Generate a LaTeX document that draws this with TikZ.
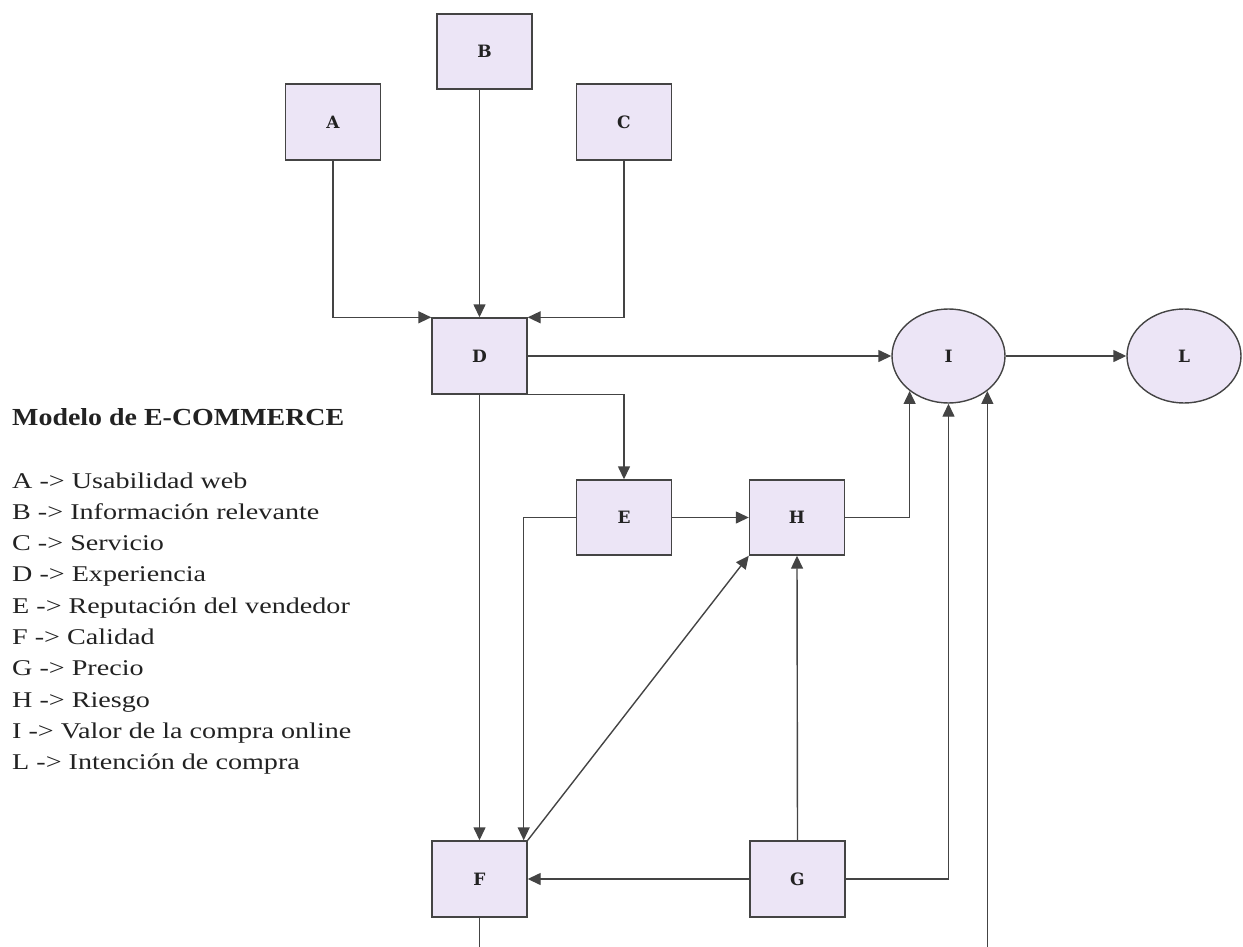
\documentclass[tikz,border=0pt]{standalone}
\usepackage{fontspec}
\usetikzlibrary{shapes.geometric,arrows.meta,calc}
\newfontfamily\lblfam{DejaVu Serif}
\newfontfamily\legfam[FakeStretch=1.25]{Liberation Serif}
\newfontfamily\legtitlefam[FakeStretch=1.14]{Liberation Serif}
\definecolor{boxfill}{HTML}{ECE5F6}
\definecolor{boxline}{HTML}{444444}
\definecolor{lineclr}{HTML}{444444}
\definecolor{txt}{HTML}{222222}
\tikzset{
  box/.style={draw=boxline, fill=boxfill, line width=1.4pt, rectangle,
    minimum width=95pt, minimum height=76pt, inner sep=0pt,
    font=\lblfam\bfseries\fontsize{17}{19}\selectfont, text=txt},
  ell/.style={box, ellipse, minimum width=113pt, minimum height=94pt},
  conn/.style={draw=lineclr, line width=1.4pt, -{Triangle[length=13pt,width=12pt]}},
  plain/.style={draw=lineclr, line width=1.4pt},
  legtitle/.style={anchor=base west, inner sep=0pt, text=txt,
    font=\legtitlefam\bfseries\fontsize{24.5}{28}\selectfont},
  legitem/.style={anchor=base west, inner sep=0pt, text=txt,
    font=\legfam\fontsize{22.5}{26}\selectfont}
}
\begin{document}
\begin{tikzpicture}[x=1pt,y=-1pt]
\useasboundingbox (0,0) rectangle (1243,947);
% nodes
\node[box] (A) at (333,122) {A};
\node[box, minimum height=75pt] (B) at (484.5,51.5) {B};
\node[box] (C) at (624,122) {C};
\node[box] (D) at (479.5,356) {D};
\node[box, minimum height=75pt] (E) at (624,517.5) {E};
\node[box, minimum height=75pt] (H) at (797,517.5) {H};
\node[box] (F) at (479.5,879) {F};
\node[box] (G) at (797.5,879) {G};
\node[ell] (I) at (948.5,356) {I};
\node[ell, minimum width=114pt] (L) at (1184,356) {L};
\coordinate (fb) at (F.south |- 0,947);
\coordinate (ib) at (I.318 |- 0,947);
% connectors
\draw[conn] (A.south) |- (D.north west);
\draw[conn] (B.south -| D.north) -- (D.north);
\draw[conn] (C.south) |- (D.north east);
\draw[conn] (D.east) -- (I.west);
\draw[conn] (I.east) -- (L.west);
\draw[conn] (D.south east) -| (E.north);
\draw[conn] (D.south) -- (F.north);
\draw[conn] (E.east) -- (H.west);
\draw[conn] (E.west) -| ($(F.north east)+(-4,0)$);
\draw[conn] (F.north east) -- (H.south west);
\draw[conn] (G.north) -- (H.south);
\draw[conn] (G.west) -- (F.east);
\draw[conn] (G.east) -| (I.south);
\draw[conn] (H.east) -| (I.222);
\draw[plain] (F.south) -- (fb);
\draw[conn] (ib) -- (I.318);
% legend
\node[legtitle] (title) at (12,425) {Modelo de E-COMMERCE};
\foreach \t [count=\i] in {A -> Usabilidad web, B -> Información relevante, C -> Servicio, D -> Experiencia, E -> Reputación del vendedor, F -> Calidad, G -> Precio, H -> Riesgo, I -> Valor de la compra online, L -> Intención de compra}
  \node[legitem] (leg\i) at (12,{488+31.3*(\i-1)}) {\t};
\end{tikzpicture}
\end{document}
